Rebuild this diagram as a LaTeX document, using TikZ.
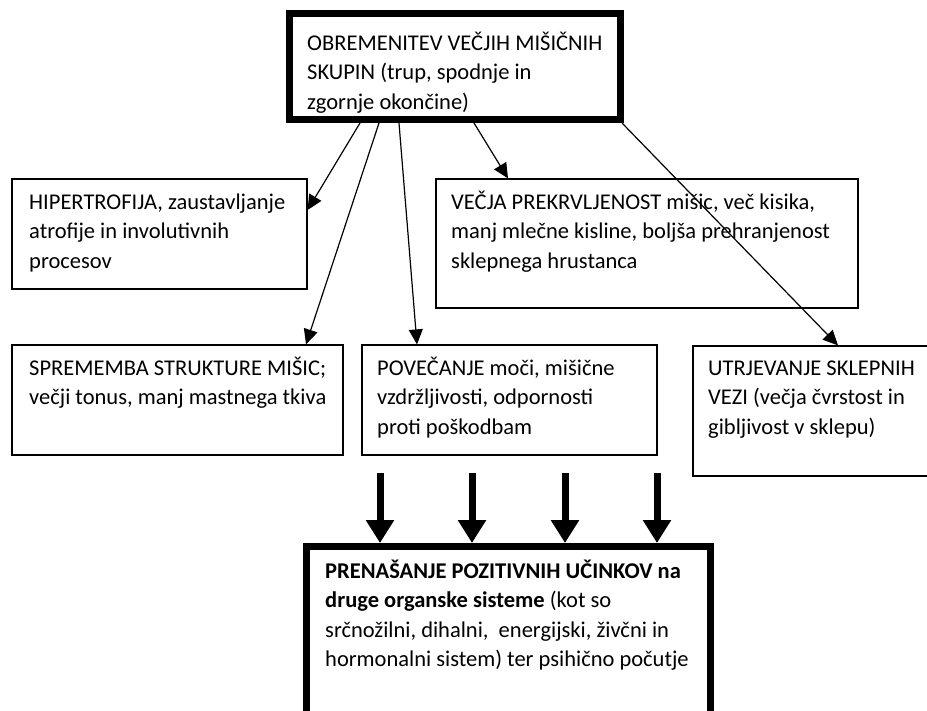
\documentclass[tikz,border=0pt]{standalone}
\usepackage{fontspec}
\setmainfont{Carlito}
\usetikzlibrary{arrows.meta}
\begin{document}
\begin{tikzpicture}[x=1pt,y=-1pt,
  box/.style={draw, line width=1.2pt, rectangle, inner sep=0pt},
  bigbox/.style={draw, line width=7pt, rectangle, inner sep=0pt},
  txt/.style={anchor=base west, inner sep=0pt, align=left, font=\fontsize{22.5}{29.5}\selectfont},
  arr/.style={line width=1.2pt, -{Triangle[length=15pt,width=14pt]}},
  fat/.style={line width=7pt, -{Triangle[length=23pt,width=27pt]}}]
\useasboundingbox (0,0) rectangle (927,710);
% boxes
\node[bigbox, minimum width=331pt, minimum height=106pt] (top) at (454.5,66.5) {};
\node[box, minimum width=295pt, minimum height=110pt] (hip) at (159.5,234) {};
\node[box, minimum width=422pt, minimum height=129pt] (vec) at (647,243.5) {};
\node[box, minimum width=331pt, minimum height=110pt] (spr) at (177.5,400) {};
\node[box, minimum width=295pt, minimum height=110pt] (pov) at (509.5,400) {};
\node[box, minimum width=235pt, minimum height=130pt] (utr) at (810.5,411) {};
\node[bigbox, minimum width=403.5pt, minimum height=169.5pt] (bot) at (508.25,631.25) {};
% texts (anchored at the baseline of their last line)
\node[txt] (ttop) at (307,109) {OBREMENITEV VEČJIH MIŠIČNIH\\SKUPIN (trup, spodnje in\\zgornje okončine)};
\node[txt] (thip) at (29,268) {HIPERTROFIJA, zaustavljanje\\atrofije in involutivnih\\procesov};
\node[txt] (tvec) at (451,268) {VEČJA PREKRVLJENOST mišic, več kisika,\\manj mlečne kisline, boljša prehranjenost\\sklepnega hrustanca};
\node[txt] (tspr) at (29,404.5) {SPREMEMBA STRUKTURE MIŠIC;\\večji tonus, manj mastnega tkiva};
\node[txt] (tpov) at (377,434) {POVEČANJE moči, mišične\\vzdržljivosti, odpornosti\\proti poškodbam};
\node[txt] (tutr) at (708,434) {UTRJEVANJE SKLEPNIH\\VEZI (večja čvrstost in\\gibljivost v sklepu)};
\node[txt] (tbot) at (325,666.5) {\textbf{PRENAŠANJE POZITIVNIH UČINKOV na}\\\textbf{druge organske sisteme} (kot so\\srčnožilni, dihalni,\ \ energijski, živčni in\\hormonalni sistem) ter psihično počutje};
% thin arrows
\draw[arr] ([xshift=74.5pt]top.south west) -- ([yshift=-31.6pt]hip.north east);
\draw[arr] ([xshift=93.5pt]top.south west) -- ([xshift=-37.6pt]spr.north east);
\draw[arr] ([xshift=113.5pt]top.south west) -- ([xshift=55.6pt]pov.north west);
\draw[arr] ([xshift=188.5pt]top.south west) -- ([xshift=72.6pt]vec.north west);
\draw[arr] ([xshift=-1.5pt]top.south east) -- ([xshift=145.6pt]utr.north west);
% thick arrows
\coordinate (f1) at (380,473);
\coordinate (f2) at (472,473);
\coordinate (f3) at (565,473);
\coordinate (f4) at (657,473);
\foreach \f in {f1,f2,f3,f4} \draw[fat] (\f) -- (\f |- bot.north);
\end{tikzpicture}
\end{document}
